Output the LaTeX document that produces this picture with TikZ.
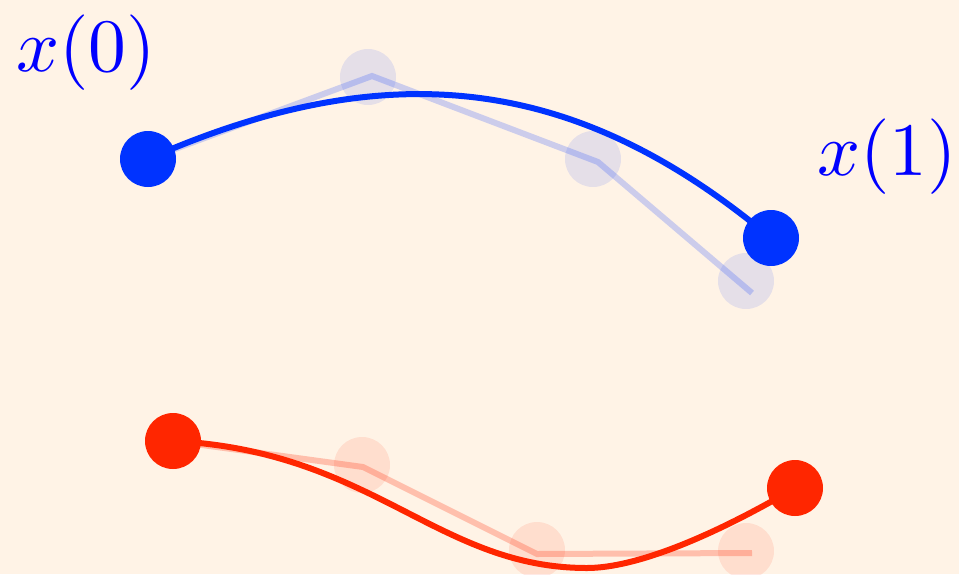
\documentclass[tikz,border=0pt]{standalone}
\usepackage{graphicx}
\usepackage{xcolor}
\definecolor{bgcream}{HTML}{FFF3E6}
\definecolor{pathblue}{HTML}{0033FF}
\definecolor{pathred}{HTML}{FF2600}
\definecolor{labelblue}{HTML}{0000FF}
\newcommand{\biglabel}[1]{\scalebox{7.55}{$#1$}}
\begin{document}
\begin{tikzpicture}[x=1pt,y=-1pt,
  enddot/.style={circle,inner sep=0pt,minimum size=56pt},
  ghostdot/.style={circle,inner sep=0pt,minimum size=56pt,fill opacity=0.1},
  ghostline/.style={line width=6pt,draw opacity=0.2},
  mainline/.style={line width=6pt},
  lbl/.style={anchor=base west,inner sep=0pt,text=labelblue}]
  % canvas
  \fill[bgcream] (0,0) rectangle (959,574);
  \useasboundingbox (0,0) rectangle (959,574);

  % ---- blue path ----
  \node[ghostdot,fill=pathblue] (bg1) at (368,77) {};
  \node[ghostdot,fill=pathblue] (bg2) at (593,159) {};
  \node[ghostdot,fill=pathblue] (bg3) at (746,281) {};
  \coordinate (bv1) at (372,76);
  \coordinate (bv2) at (598,162);
  \coordinate (bv3) at (752,293);
  \node[enddot] (b0) at (148,159) {};
  \node[enddot] (b1) at (771,238) {};
  \draw[ghostline,pathblue] (b0.center) -- (bv1) -- (bv2) -- (bv3);
  \draw[mainline,pathblue] (b0.center) .. controls (393,51) and (580,78) .. (b1.center);
  \fill[pathblue] (b0) circle[radius=28];
  \fill[pathblue] (b1) circle[radius=28];

  % ---- red path ----
  \node[ghostdot,fill=pathred] (rg1) at (362,465) {};
  \node[ghostdot,fill=pathred] (rg2) at (537,550) {};
  \node[ghostdot,fill=pathred] (rg3) at (746,551) {};
  \coordinate (rv1) at (363,467);
  \coordinate (rv2) at (537,554);
  \coordinate (rv3) at (752,553);
  \coordinate (rlow) at (587,568);
  \node[enddot] (r0) at (173,441) {};
  \node[enddot] (r1) at (795,488) {};
  \draw[ghostline,pathred,draw opacity=0.25] (r0.center) -- (rv1) -- (rv2) -- (rv3);
  \draw[mainline,pathred] (r0.center) .. controls (373,451) and (437,568) .. (rlow)
                                      .. controls (637,568) and (715,535) .. (r1.center);
  \fill[pathred] (r0) circle[radius=28];
  \fill[pathred] (r1) circle[radius=28];

  % ---- labels ----
  \node[lbl] (l0) at (16,71) {\biglabel{x(0)}};
  \node[lbl] (l1) at (817,175) {\biglabel{x(1)}};
\end{tikzpicture}
\end{document}
